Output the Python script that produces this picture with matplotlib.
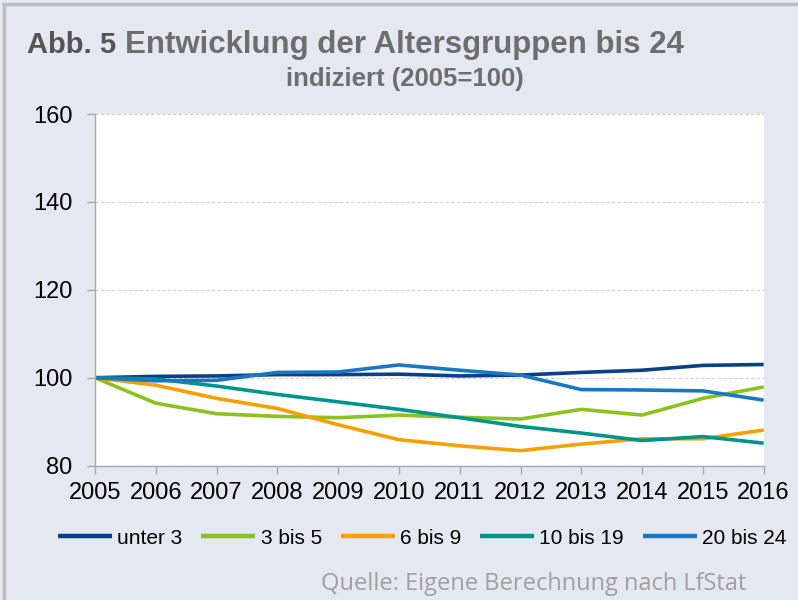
import matplotlib.pyplot as plt

# Daten (indiziert, 2005 = 100)
jahre = [2005, 2006, 2007, 2008, 2009, 2010, 2011, 2012, 2013, 2014, 2015, 2016]
unter_3 = [100, 100.3, 100.4, 100.7, 100.7, 100.8, 100.4, 100.6, 101.2, 101.7, 102.8, 103.0]
bis_3_5 = [100, 94.2, 91.8, 91.2, 90.9, 91.5, 91.0, 90.6, 92.8, 91.5, 95.3, 97.9]
bis_6_9 = [100, 98.3, 95.3, 93.0, 89.3, 85.9, 84.5, 83.4, 84.9, 86.1, 86.1, 88.1]
bis_10_19 = [100, 99.7, 98.1, 96.2, 94.5, 92.8, 90.9, 88.9, 87.4, 85.7, 86.6, 85.1]
bis_20_24 = [100, 99.3, 99.4, 101.2, 101.3, 102.9, 101.7, 100.6, 97.3, 97.2, 97.0, 94.9]

serien = [
    ('unter 3', unter_3, '#0B3F86'),
    ('3 bis 5', bis_3_5, '#8CC21E'),
    ('6 bis 9', bis_6_9, '#F7A000'),
    ('10 bis 19', bis_10_19, '#00958A'),
    ('20 bis 24', bis_20_24, '#1A78C2'),
]

BG = '#E4E8F0'
SANS = ['Liberation Sans', 'DejaVu Sans']

fig = plt.figure(figsize=(7.98, 6.0), dpi=100)
fig.patch.set_facecolor(BG)

# Rahmen oben und links
fig.add_artist(plt.Line2D([0.005, 1.0], [0.9935, 0.9935], color='#BDBDBD', linewidth=2.5))
fig.add_artist(plt.Line2D([0.0055, 0.0055], [0.0, 0.9935], color='#BDBDBD', linewidth=2.5))

ax = fig.add_axes([0.119, 0.224, 0.838, 0.586])
ax.set_facecolor('white')

for name, werte, farbe in serien:
    ax.plot(jahre, werte, color=farbe, linewidth=2.6, label=name, solid_capstyle='butt')

ax.set_xlim(2005, 2016)
ax.set_ylim(80, 160)
ax.set_yticks([80, 100, 120, 140, 160])
ax.set_xticks(jahre)
ax.set_xticklabels([str(j) for j in jahre])

ax.grid(axis='y', linestyle=(0, (3, 2)), color='#D0D0D0', linewidth=0.8)
ax.set_axisbelow(True)

for s in ['top', 'right']:
    ax.spines[s].set_visible(False)
for s in ['left', 'bottom']:
    ax.spines[s].set_color('#A8A8A8')
    ax.spines[s].set_linewidth(1.0)

ax.tick_params(axis='both', direction='out', length=6, color='#A8A8A8', width=1.0)
ax.tick_params(axis='y', labelsize=17, pad=10)
ax.tick_params(axis='x', labelsize=17, pad=6)
for lab in ax.get_xticklabels() + ax.get_yticklabels():
    lab.set_family(SANS)
    lab.set_color('black')

# Titel
fig.text(0.034, 0.9117, 'Abb. 5', fontsize=21, fontweight='bold', color='#555555',
         family=SANS, va='baseline', ha='left')
fig.text(0.157, 0.9117, 'Entwicklung der Altersgruppen bis 24', fontsize=22.5,
         fontweight='bold', color='#6E6E6E', family=SANS, va='baseline', ha='left')
fig.text(0.5075, 0.857, 'indiziert (2005=100)', fontsize=18.5, fontweight='bold',
         color='#6E6E6E', family=SANS, va='baseline', ha='center')

# Legende
leg = fig.legend(loc='center', bbox_to_anchor=(0.529, 0.103), ncol=5, frameon=False,
                 handlelength=2.6, handletextpad=0.25, columnspacing=0.9,
                 prop={'family': SANS, 'size': 15})
for line in leg.get_lines():
    line.set_linewidth(3.2)

# Quelle
fig.text(0.935, 0.017, 'Quelle: Eigene Berechnung nach LfStat', fontsize=17,
         color='#A0A0A0', family=['Open Sans', 'DejaVu Sans'], ha='right', va='baseline')

plt.savefig('out.png', dpi=100, facecolor=fig.get_facecolor())
